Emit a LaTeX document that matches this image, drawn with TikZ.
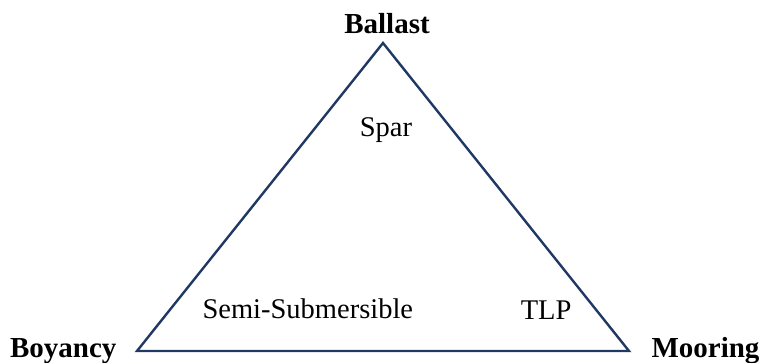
\documentclass[tikz,border=0pt]{standalone}
\usepackage{fontspec}
\setmainfont{Liberation Serif}
\usetikzlibrary{positioning}
\definecolor{navy}{HTML}{1F3864}

\begin{document}
\begin{tikzpicture}[x=1pt,y=-1pt,
  corner/.style={font=\fontsize{29}{32}\selectfont\bfseries,anchor=base},
  kind/.style={font=\fontsize{28.5}{31}\selectfont,anchor=base}]
\useasboundingbox (0,0) rectangle (762,362);
\coordinate (top) at (383,43);
\coordinate (left) at (137,351);
\coordinate (right) at (629,351);

\draw[navy,line width=2.4pt,line join=miter] (top) -- (left) -- (right) -- cycle;

\node[corner] (ballast) at (387,33) {Ballast};
\node[corner,anchor=base east] (boyancy) at (120,357) {Boyancy};
\node[corner,anchor=base west] (mooring) at (648,357) {Mooring};

\node[kind] (spar) at (386,136) {Spar};
\node[kind,anchor=base west] (semi) at (199,318) {Semi-Submersible};
\node[kind,anchor=base east] (tlp) at (575,319) {TLP};
\end{tikzpicture}
\end{document}
